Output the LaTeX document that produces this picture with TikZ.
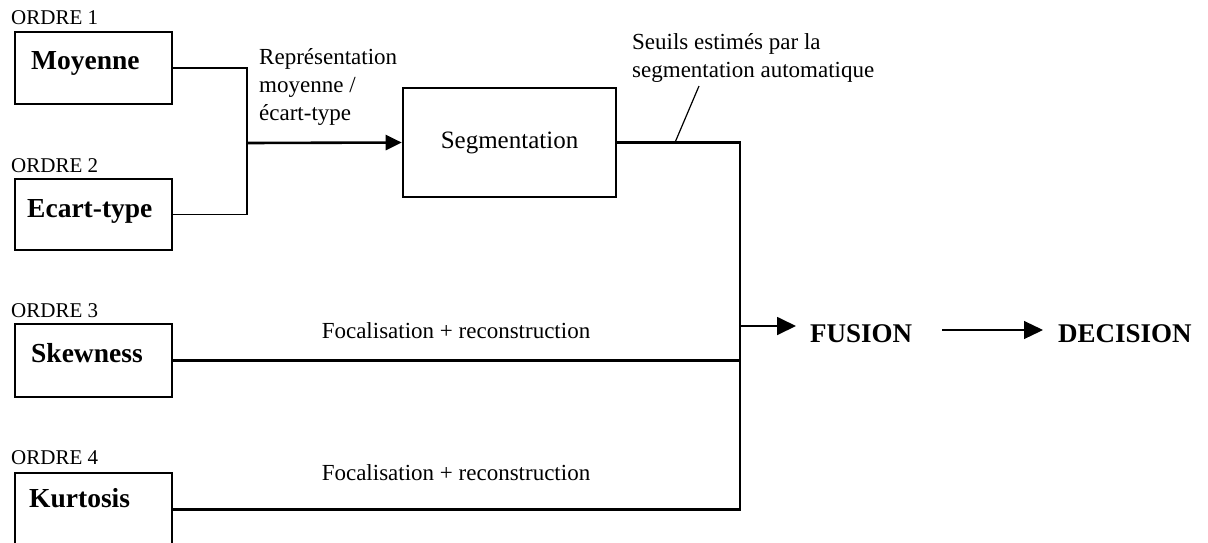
\documentclass[tikz,border=0pt]{standalone}
\usepackage{fontspec}
\setmainfont{Liberation Serif}
\usetikzlibrary{arrows.meta}
\begin{document}
\begin{tikzpicture}[x=1pt,y=-1pt,
  box/.style={draw, line width=2.6pt, minimum width=157pt, inner sep=0pt},
  boxtext/.style={anchor=base west, inner sep=0pt, font=\fontsize{27.5}{30}\selectfont\bfseries},
  ordre/.style={anchor=base west, inner sep=0pt, font=\fontsize{21}{24}\selectfont},
  lbl/.style={inner sep=0pt, align=left, font=\fontsize{23}{28}\selectfont},
  heavy/.style={line width=2.6pt},
  light/.style={line width=1.8pt},
  hair/.style={line width=1.2pt},
  final/.style={anchor=base west, inner sep=0pt, font=\fontsize{27}{30}\selectfont\bfseries},
  tri/.style={-{Triangle[length=16pt,width=15pt]}},
  tribig/.style={-{Triangle[length=19pt,width=18pt]}}
]
\useasboundingbox[fill=white] (0,0) rectangle (1208,542);

% boxes
\node[box, minimum height=72pt] (moy) at (93.5,68) {};
\node[box, minimum height=71pt] (ect) at (93.5,214.5) {};
\node[box, minimum height=73pt] (skw) at (93.5,360.5) {};
\node[box, minimum height=73pt] (kur) at (93.5,509.5) {};
\node[box, minimum width=213pt, minimum height=109pt, font=\fontsize{25}{30}\selectfont] (seg) at (509.5,142.5) {Segmentation};

% box texts
\node[boxtext] (moyt) at (31,69) {Moyenne};
\node[boxtext] (ectt) at (27,217) {Ecart-type};
\node[boxtext] (skwt) at (31,362) {Skewness};
\node[boxtext] (kurt) at (29,507) {Kurtosis};

% ordre labels
\node[ordre] (o1) at (11,24) {ORDRE 1};
\node[ordre] (o2) at (11,172) {ORDRE 2};
\node[ordre] (o3) at (11,317) {ORDRE 3};
\node[ordre] (o4) at (11,464) {ORDRE 4};

% text labels
\node[lbl, anchor=north west] (rep) at (259,48) {Représentation\\moyenne /\\écart-type};
\node[lbl, anchor=north west] (seuils) at (632,33) {Seuils estimés par la\\segmentation automatique};
\node[lbl] (foc1) at (456,331) {Focalisation + reconstruction};
\node[lbl] (foc2) at (456,473) {Focalisation + reconstruction};

% final nodes
\node[final] (fus) at (810,342) {FUSION};
\node[final] (dec) at (1058,342) {DECISION};

% coordinates
\coordinate (j1) at (247,143);
\coordinate (bus) at (740,142.5);
\coordinate (fj) at (740,326);
\coordinate (sl1) at (675,142.5);
\coordinate (sl2) at (699,86);

% connectors
\draw[light] (moy.east) -- (moy.east -| j1) -- (ect.east -| j1) -- (ect.east);
\draw[heavy, tri] (j1) -- (seg.west);
\draw[heavy] (seg.east) -- (bus) -- (bus |- kur.east) -- (kur.east);
\draw[heavy] (skw.east) -- (skw.east -| bus);
\draw[hair] (sl1) -- (sl2);
\draw[light, tribig] (fj) -- ([xshift=-14pt]fj -| fus.west);
\draw[hair, tribig] ([xshift=30pt]fus.east |- 0,330) -- ([xshift=-15pt]dec.west |- 0,330);
\end{tikzpicture}
\end{document}
